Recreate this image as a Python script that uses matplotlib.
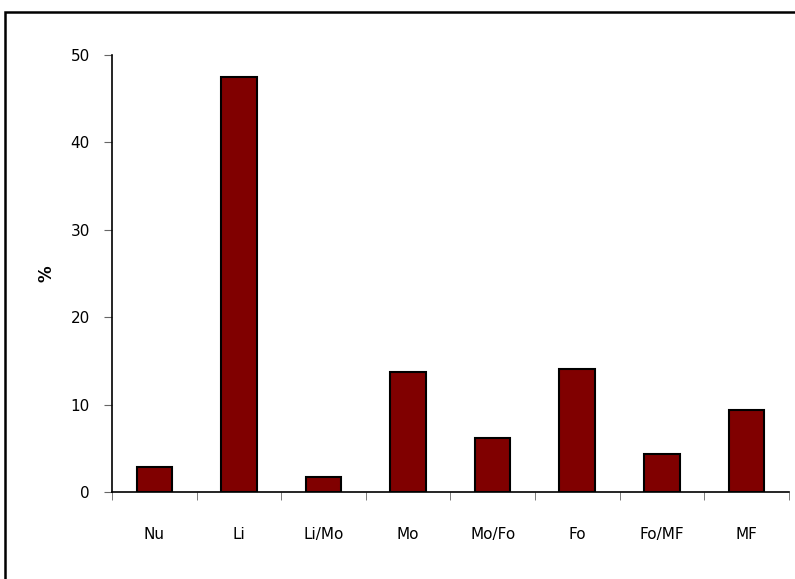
import matplotlib.pyplot as plt
import matplotlib.patches as patches
import numpy as np

categories = ['Nu', 'Li', 'Li/Mo', 'Mo', 'Mo/Fo', 'Fo', 'Fo/MF', 'MF']
values = [2.9, 47.5, 1.7, 13.7, 6.2, 14.1, 4.4, 9.4]

fig = plt.figure(figsize=(7.95, 5.79), dpi=100)
ax = fig.add_axes([0.141, 0.150, 0.851, 0.755])

x = np.arange(len(categories))
ax.bar(x, values, width=0.42, color='#800000', edgecolor='black', linewidth=1.5)

ax.set_xlim(-0.5, len(categories) - 0.5)
ax.set_ylim(0, 50)
ax.set_yticks(np.arange(0, 51, 10))
ax.set_xticks(x)
ax.set_xticklabels(categories)
ax.set_xticks(np.arange(-0.5, len(categories), 1), minor=True)
ax.tick_params(axis='x', which='major', length=0, pad=25, labelsize=11)
ax.tick_params(axis='x', which='minor', length=6, direction='out', color='#666666')
ax.tick_params(axis='y', length=6, direction='out', pad=10, labelsize=11, color='#666666')

for s in ['top', 'right']:
    ax.spines[s].set_visible(False)
ax.spines['left'].set_linewidth(1.2)
ax.spines['bottom'].set_linewidth(1.2)

ax.set_ylabel('%', fontweight='bold', fontsize=12, labelpad=11)

# outer frame of the chart area
fig.patches.append(patches.Rectangle((0.0063, -0.1), 1.2, 1.079, transform=fig.transFigure,
                                     fill=False, edgecolor='black', linewidth=1.8))

fig.savefig('out.png', dpi=100)
